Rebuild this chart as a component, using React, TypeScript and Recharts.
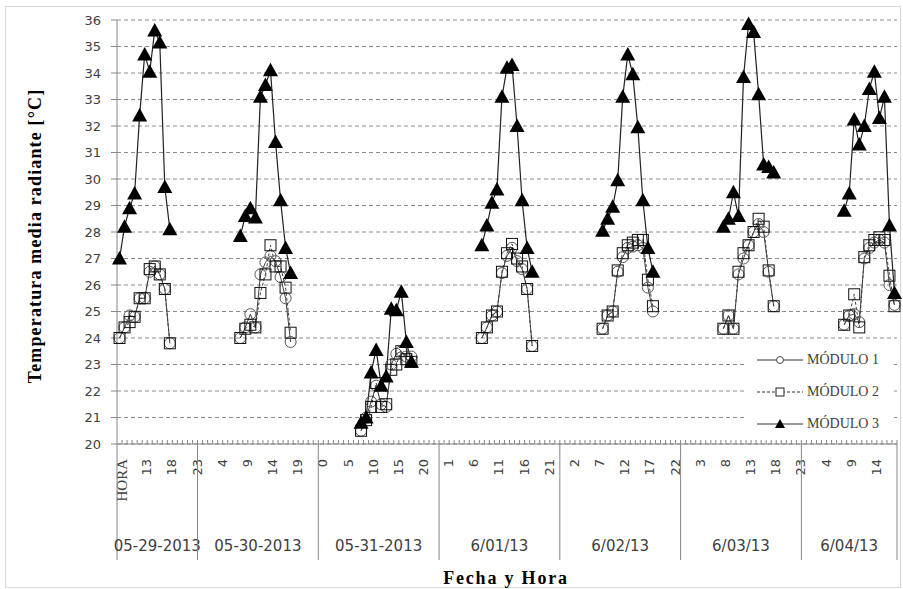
import { LineChart, Line, XAxis, YAxis, CartesianGrid, Label } from 'recharts';

// fechas (una por grupo) y cantidad de horas que ocupa cada día en el eje
const dates = ['05-29-2013', '05-30-2013', '05-31-2013', '6/01/13', '6/02/13', '6/03/13', '6/04/13'];
const slotsPerDay = [16, 24, 24, 24, 24, 24, 19];
// posición (dentro del día) de la primera lectura, las 08:00
const dataStart = [0, 8, 8, 8, 8, 8, 8];

const hoursDay1 = ['HORA', '9', '10', '11', '12', '13', '14', '15', '16', '17', '18', '19', '20', '21', '22', '23'];
const hoursFullDay = ['0', '1', '2', '3', '4', '5', '6', '7', '8', '9', '10', '11', '12', '13', '14', '15', '16', '17', '18', '19', '20', '21', '22', '23'];

const yTicks = [20, 21, 22, 23, 24, 25, 26, 27, 28, 29, 30, 31, 32, 33, 34, 35, 36];

// lecturas de 8 a 18 h, una fila por día
const modulo1 = [
    [24.0, 24.4, 24.85, 24.8, 25.5, 25.5, 26.5, 26.7, 26.4, 25.85, 23.8],
    [24.0, 24.4, 24.9, 24.4, 26.4, 26.85, 27.1, 26.9, 26.3, 25.5, 23.85],
    [20.5, 21.0, 21.6, 22.2, 21.5, 21.4, 23.0, 23.4, 23.5, 23.3, 23.3],
    [24.0, 24.4, 24.85, 25.0, 26.45, 27.1, 27.4, 26.9, 26.6, 25.85, 23.7],
    [24.35, 24.85, 25.0, 26.5, 27.05, 27.4, 27.45, 27.5, 27.4, 25.9, 25.0],
    [24.35, 24.85, 24.35, 26.4, 27.0, 27.5, 28.0, 28.3, 28.0, 26.5, 25.2],
    [24.5, 24.85, 24.9, 24.6, 27.0, 27.4, 27.6, 27.7, 27.6, 26.0, 25.25],
];
const modulo2 = [
    [24.0, 24.4, 24.6, 24.8, 25.5, 25.5, 26.6, 26.7, 26.4, 25.85, 23.8],
    [24.0, 24.35, 24.5, 24.4, 25.7, 26.4, 27.5, 26.7, 26.7, 25.9, 24.2],
    [20.5, 20.9, 21.4, 22.3, 21.4, 21.5, 22.8, 23.0, 23.5, 23.2, 23.1],
    [24.0, 24.4, 24.85, 25.0, 26.5, 27.2, 27.55, 27.0, 26.7, 25.85, 23.7],
    [24.35, 24.85, 25.0, 26.55, 27.2, 27.5, 27.6, 27.7, 27.7, 26.2, 25.2],
    [24.35, 24.85, 24.35, 26.5, 27.2, 27.5, 28.0, 28.5, 28.2, 26.55, 25.2],
    [24.5, 24.85, 25.65, 24.4, 27.05, 27.5, 27.7, 27.8, 27.7, 26.35, 25.2],
];
const modulo3 = [
    [27.0, 28.2, 28.9, 29.45, 32.4, 34.7, 34.05, 35.6, 35.15, 29.7, 28.1],
    [27.85, 28.6, 28.9, 28.55, 33.1, 33.55, 34.1, 31.4, 29.2, 27.4, 26.45],
    [20.8, 21.0, 22.7, 23.55, 22.2, 22.55, 25.1, 25.05, 25.75, 23.85, 23.1],
    [27.5, 28.25, 29.1, 29.6, 33.1, 34.2, 34.3, 32.0, 29.2, 27.4, 26.5],
    [28.05, 28.5, 28.95, 29.95, 33.1, 34.7, 33.95, 31.95, 29.2, 27.4, 26.5],
    [28.2, 28.5, 29.5, 28.6, 33.85, 35.85, 35.55, 33.2, 30.55, 30.45, 30.25],
    [28.8, 29.45, 32.25, 31.3, 32.0, 33.4, 34.05, 32.3, 33.1, 28.25, 25.7],
];

const CHART_W = 903;
const CHART_H = 589;
const PLOT_LEFT = 117;
const PLOT_RIGHT = 897;
const PLOT_TOP = 20;
const PLOT_BOTTOM = 444;

const dayStarts: number[] = [];
const rows: any[] = [];
let offset = 0;
dates.forEach((_, d) => {
    dayStarts.push(offset);
    const labels = d === 0 ? hoursDay1 : hoursFullDay.slice(0, slotsPerDay[d]);
    labels.forEach((h, k) => {
        const r = k - dataStart[d];
        const has = r >= 0 && r < modulo1[d].length;
        rows.push({
            i: offset + k,
            hour: h,
            m1: has ? modulo1[d][r] : null,
            m2: has ? modulo2[d][r] : null,
            m3: has ? modulo3[d][r] : null,
        });
    });
    offset += slotsPerDay[d];
});
const TOTAL = offset;
const SLOT_W = (PLOT_RIGHT - PLOT_LEFT) / TOTAL;
const axisGray = '#868686';
const textGray = '#404040';

const HourTick = (props: any) => {
    const { x, y, payload } = props;
    const i = payload.value as number;
    const row = rows[i];
    const d = dayStarts.indexOf(i);
    return (
        <g>
            <line x1={x + SLOT_W / 2} x2={x + SLOT_W / 2} y1={y} y2={y - 4} stroke={axisGray} />
            {i % 5 === 0 && (
                <text
                    x={x + 2}
                    y={y + 15}
                    transform={`rotate(-90 ${x + 2} ${y + 15})`}
                    textAnchor="end"
                    dy="0.35em"
                    fontSize={row.hour === 'HORA' ? 15 : 13}
                    fontFamily={row.hour === 'HORA' ? 'Liberation Serif' : 'DejaVu Sans'}
                    fill={textGray}
                >
                    {row.hour}
                </text>
            )}
            {d >= 0 && (
                <>
                    <line x1={x - SLOT_W / 2} x2={x - SLOT_W / 2} y1={y} y2={y + 116} stroke={axisGray} />
                    <text
                        x={x - SLOT_W / 2 + (slotsPerDay[d] * SLOT_W) / 2}
                        y={y + 107}
                        textAnchor="middle"
                        fontSize={15}
                        fontFamily="DejaVu Sans"
                        fill={textGray}
                    >
                        {dates[d]}
                    </text>
                </>
            )}
            {i === TOTAL - 1 && (
                <line x1={x + SLOT_W / 2} x2={x + SLOT_W / 2} y1={y} y2={y + 116} stroke={axisGray} />
            )}
        </g>
    );
};

const CircleDot = (p: any) => {
    if (p.value == null || p.cy == null) return <g key={p.index} />;
    return <circle key={p.index} cx={p.cx} cy={p.cy} r={5.5} fill="none" stroke="#555" strokeWidth={1} />;
};
const SquareDot = (p: any) => {
    if (p.value == null || p.cy == null) return <g key={p.index} />;
    return <rect key={p.index} x={p.cx - 5.5} y={p.cy - 5.5} width={11} height={11} fill="none" stroke="#111" strokeWidth={1} />;
};
const TriangleDot = (p: any) => {
    if (p.value == null || p.cy == null) return <g key={p.index} />;
    const { cx, cy } = p;
    return <polygon key={p.index} points={`${cx},${cy - 7.5} ${cx + 7.5},${cy + 6} ${cx - 7.5},${cy + 6}`} fill="#000" />;
};

const legendItems = [
    { name: 'MÓDULO 1', dash: undefined, marker: 'circle' },
    { name: 'MÓDULO 2', dash: '3 2', marker: 'square' },
    { name: 'MÓDULO 3', dash: undefined, marker: 'triangle' },
];

const ChartLegend = () => (
    <div style={{ position: 'absolute', left: 745, top: 344, width: 146, height: 88, background: '#fff' }}>
        {legendItems.map((it, k) => (
            <div key={it.name} style={{ position: 'absolute', left: 0, top: 4 + k * 32, height: 24, display: 'flex', alignItems: 'center' }}>
                <svg width={60} height={16}>
                    <line x1={12} x2={58} y1={8} y2={8} stroke="#333" strokeDasharray={it.dash} />
                    {it.marker === 'circle' && <circle cx={35} cy={8} r={3.5} fill="#fff" stroke="#444" />}
                    {it.marker === 'square' && <rect x={31} y={4} width={8} height={8} fill="#fff" stroke="#222" />}
                    {it.marker === 'triangle' && <polygon points="35,3 40,12 30,12" fill="#000" />}
                </svg>
                <span style={{ fontFamily: 'Liberation Serif', fontSize: 14, color: textGray, marginLeft: 2 }}>{it.name}</span>
            </div>
        ))}
    </div>
);

export default function App() {
    return (
        <div style={{ position: 'absolute', left: 0, top: 0, width: CHART_W, height: CHART_H, background: '#fff' }}>
            <div style={{ position: 'absolute', left: 5, top: 6, width: 896, height: 582, border: '1px solid #d9d9d9', boxSizing: 'border-box' }} />
            <LineChart
                width={CHART_W}
                height={CHART_H}
                data={rows}
                margin={{ top: PLOT_TOP, right: CHART_W - PLOT_RIGHT, left: 0, bottom: 0 }}
            >
                <CartesianGrid vertical={false} strokeDasharray="4 3" stroke="#8c8c8c" />
                <XAxis
                    dataKey="i"
                    type="number"
                    domain={[-0.5, TOTAL - 0.5]}
                    ticks={rows.map((r) => r.i)}
                    interval={0}
                    tick={<HourTick />}
                    tickLine={false}
                    tickSize={0}
                    tickMargin={0}
                    axisLine={{ stroke: axisGray }}
                    height={CHART_H - PLOT_BOTTOM}
                    label={
                        <Label
                            content={() => (
                                <text x={506} y={584} textAnchor="middle" fontFamily="Liberation Serif" fontWeight="bold" fontSize={18} letterSpacing={1.8} fill="#000">
                                    Fecha y Hora
                                </text>
                            )}
                        />
                    }
                />
                <YAxis
                    type="number"
                    domain={[20, 36]}
                    ticks={yTicks}
                    interval={0}
                    width={PLOT_LEFT}
                    tickSize={6}
                    tickMargin={10}
                    tickLine={{ stroke: axisGray }}
                    axisLine={{ stroke: axisGray }}
                    tick={{ fill: textGray, fontSize: 13, fontFamily: 'DejaVu Sans' }}
                    label={
                        <Label
                            content={() => (
                                <text x={41} y={236} transform="rotate(-90 41 236)" textAnchor="middle" fontFamily="Liberation Serif" fontWeight="bold" fontSize={18} letterSpacing={1.15} fill="#000">
                                    Temperatura media radiante [°C]
                                </text>
                            )}
                        />
                    }
                />
                <Line dataKey="m1" stroke="#404040" strokeWidth={1} dot={CircleDot} activeDot={false} isAnimationActive={false} />
                <Line dataKey="m2" stroke="#404040" strokeWidth={1} strokeDasharray="3 2" dot={SquareDot} activeDot={false} isAnimationActive={false} />
                <Line dataKey="m3" stroke="#222" strokeWidth={1.2} dot={TriangleDot} activeDot={false} isAnimationActive={false} />
            </LineChart>
            <ChartLegend />
        </div>
    );
}
